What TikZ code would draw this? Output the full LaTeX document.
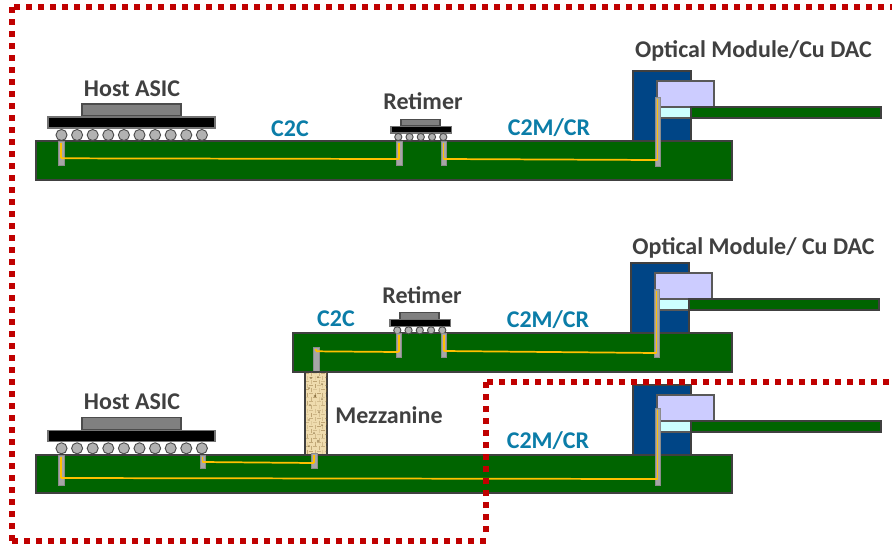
\documentclass[tikz,border=0pt]{standalone}
\usepackage{fontspec}
\setmainfont{Carlito}
\definecolor{pcb}{HTML}{006400}
\definecolor{modblue}{HTML}{004586}
\definecolor{lilac}{HTML}{CCCCFF}
\definecolor{pale}{HTML}{CCFFFF}
\definecolor{tracey}{HTML}{FFC000}
\definecolor{viagrey}{HTML}{A6A6A6}
\definecolor{lbl}{HTML}{404040}
\definecolor{lblblue}{HTML}{0B7DA8}
\definecolor{dotred}{HTML}{C00000}
\definecolor{tan1}{HTML}{EFDCAE}
\definecolor{tan2}{HTML}{8A6A35}
\definecolor{tan3}{HTML}{5E4418}
\tikzset{
 x=0.75pt,y=-0.75pt,
 blockbox/.style={inner sep=0,outer sep=0,draw=#1,line width=0.9pt},
 pcbbox/.style={blockbox=black!75,fill=pcb},
 modbox/.style={blockbox=black!75,fill=modblue},
 lilacbox/.style={blockbox=black!65,fill=lilac},
 palebox/.style={blockbox=black!65,fill=pale},
 diebox/.style={blockbox=black!70,fill=black!50},
 subbox/.style={blockbox=black!55,fill=black},
 ballc/.style={circle,inner sep=0,outer sep=0,draw=black!70,fill=black!30,line width=0.7pt},
 viabox/.style={inner sep=0,outer sep=0,fill=viagrey,draw=black!45,line width=0.3pt},
 tracel/.style={draw=tracey,line width=1.3pt},
 heading/.style={font=\bfseries\fontsize{18}{20}\selectfont,text=lbl,inner sep=0},
 bluelabel/.style={font=\bfseries\fontsize{18}{20}\selectfont,text=lblblue,inner sep=0},
 redline/.style={draw=dotred,line width=4.5pt,dash pattern=on 4.5pt off 4.5pt},
}
% box: name, style, x1, y1, x2, y2 (pixels)
\newcommand{\bx}[6]{%
 \pgfmathsetmacro{\bxw}{((#5)-(#3))*0.75}\pgfmathsetmacro{\bxh}{((#6)-(#4))*0.75}%
 \node[#2,minimum width=\bxw pt,minimum height=\bxh pt] (#1) at ({((#3)+(#5))/2},{((#4)+(#6))/2}) {};}
% via: name, x, y1, y2, yellow end y
\newcommand{\via}[5]{%
 \bx{#1}{viabox}{#2-2.7}{#3}{#2+2.7}{#4}%
 \coordinate (#1t) at (#2,#3+1.5);\coordinate (#1e) at (#2,#5);
 \draw[tracel] (#1t) -- (#1e);}
% package
\newcommand{\asic}[2]{% name, y offset
 \bx{#1die}{diebox}{82}{#2+104}{181}{#2+116}
 \bx{#1sub}{subbox}{48}{#2+117}{215}{#2+128}
 \foreach \i in {0,...,9}{\node[ballc,minimum size=8.3pt] (#1b\i) at (61.5+15.6*\i,#2+135) {};}}
\newcommand{\retimer}[3]{% name, x offset, y offset
 \bx{#1die}{diebox}{#2+401}{#3+119.5}{#2+440}{#3+126}
 \bx{#1sub}{subbox}{#2+391}{#3+126.5}{#2+451.5}{#3+133}
 \foreach \i in {0,...,4}{\node[ballc,minimum size=5.4pt] (#1b\i) at (#2+398.3+11.25*\i,#3+137) {};}}
\newcommand{\module}[3]{% name, dx, dy
 \bx{#1blue}{modbox}{#2+633}{#3+71}{#2+691}{#3+141}
 \bx{#1lil}{lilacbox}{#2+657}{#3+81}{#2+714}{#3+107}
 \bx{#1pal}{palebox}{#2+657}{#3+107}{#2+691}{#3+118}
 \bx{#1cab}{pcbbox}{#2+691}{#3+107}{#2+881}{#3+118}}
\begin{document}
\begin{tikzpicture}
\useasboundingbox (0,0) rectangle (892,544);
\fill[white] (0,0) rectangle (892,544);

% ---- row 1
\module{ma}{0}{0}
\bx{pa}{pcbbox}{36}{141}{732}{180}
\asic{ha}{0}
\retimer{ra}{0}{0}
\via{va}{61}{141}{165}{158.3}
\via{vb}{399}{141}{165}{159}
\via{vc}{443.5}{141}{165}{159}
\via{vd}{657.5}{97}{166}{160}
\draw[tracel] (vae) -- (vbe);
\draw[tracel] (vce) -- (vde);
\node[heading] (ta) at (132,88.5) {Host ASIC};
\node[bluelabel] (tb) at (290,128.5) {C2C};
\node[heading] (tc) at (423,101) {Retimer};
\node[bluelabel] (td) at (549,127.5) {C2M/CR};
\node[heading] (te) at (753.5,50.5) {Optical Module/Cu DAC};

% ---- row 2
\module{mb}{-2}{192}
\bx{pb}{pcbbox}{293}{333}{732}{372}
\retimer{rb}{-1}{193.3}
\via{ve}{316}{347.5}{371}{351.3}
\via{vf}{398.7}{333}{357}{352}
\via{vg}{443.7}{333}{357}{351}
\via{vh}{656.5}{289}{357}{353}
\draw[tracel] (vee) -- (vfe);
\draw[tracel] (vge) -- (vhe);
\node[heading] (tf) at (753.5,247.5) {Optical Module/ Cu DAC};
\node[heading] (tg) at (422,295) {Retimer};
\node[bluelabel] (th) at (336,319) {C2C};
\node[bluelabel] (ti) at (548,319.5) {C2M/CR};

% ---- mezzanine
\bx{mz}{blockbox=black!75,fill=tan1}{305}{372}{327}{455}
\begin{scope}
\clip (mz.north west) rectangle (mz.south east);
\pgfmathsetseed{4211}
\foreach \ix in {0,...,5}{\foreach \iy in {0,...,20}{
  \pgfmathsetmacro{\cx}{305.5+\ix*3.9}\pgfmathsetmacro{\cy}{373+\iy*4.1}
  \pgfmathsetmacro{\op}{0.12+0.4*rnd}
  \pgfmathtruncatemacro{\vr}{mod(\ix+\iy,2)}
  \ifnum\vr=0
   \draw[tan2,opacity=\op,line width=0.6pt] (\cx,\cy) -- (\cx+3.5,\cy);
  \else
   \draw[tan2,opacity=\op,line width=0.6pt] (\cx+1.7,\cy-1) -- (\cx+1.7,\cy+3);
  \fi
}}
\foreach \ix/\iy/\rr in {311/378/1.2,318/377/1,322/384/1,309/388/1,315/396/1.3,322/399/1,
  310/405/1,319/412/1,309/420/0.9,322/425/1,314/433/1,318/441/1.1,309/446/1}{
  \fill[tan3,opacity=0.55] (\ix,\iy) circle[radius=\rr];
}
\end{scope}
\node[heading] (tj) at (389,415) {Mezzanine};

% ---- row 3
\module{mc}{0}{314}
\bx{pc}{pcbbox}{36}{455}{732}{493}
\asic{hb}{313.3}
\via{vi}{61}{455}{485.5}{478}
\via{vj}{202.5}{455}{468}{462}
\via{vk}{314}{453}{468}{463}
\via{vl}{657.5}{408}{485}{479}
\draw[tracel] (vie) -- (vle);
\draw[tracel] (vje) -- (vke);
\node[heading] (tk) at (132,401.5) {Host ASIC};
\node[bluelabel] (tl) at (548,441) {C2M/CR};

% ---- red dotted borders
\draw[redline] (14,7) -- (892,7);
\draw[redline] (12,7) -- (12,544);
\draw[redline] (12,541) -- (486,541);
\draw[redline] (486,532) -- (486,380);
\draw[redline] (487,381.5) -- (892,381.5);
\end{tikzpicture}
\end{document}
